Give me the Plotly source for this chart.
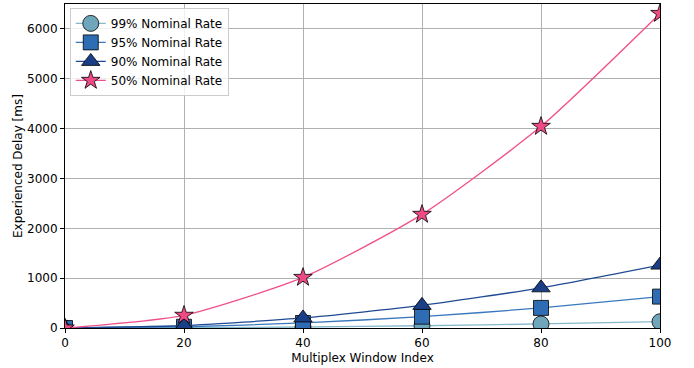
import plotly.graph_objects as go

x_idx = [0, 20, 40, 60, 80, 100]
rate99 = [0, 5, 20, 45, 81, 126]
rate95 = [0, 25, 101, 227, 403, 630]
rate90 = [0, 50, 202, 454, 806, 1262]
rate50 = [0, 255, 1015, 2280, 4045, 6310]

series = [
    ("99% Nominal Rate", rate99, "#6fa6bb", "#86b8cb", "circle", 16),
    ("95% Nominal Rate", rate95, "#2e6db3", "#3a78bd", "square", 15),
    ("90% Nominal Rate", rate90, "#1b3f86", "#1f4a94", "triangle-up", 16),
    ("50% Nominal Rate", rate50, "#ee4a86", "#f0508c", "star", 14),
]

fig = go.Figure()
for name, ys, mc, lc, sym, sz in series:
    fig.add_trace(go.Scatter(
        x=x_idx, y=ys, name=name, mode="lines+markers",
        line=dict(color=lc, width=1.3, shape="spline", smoothing=0.6),
        marker=dict(symbol=sym, size=sz, color=mc, line=dict(color="black", width=0.8)),
    ))

font = dict(family="DejaVu Sans", size=12, color="black")
fig.update_layout(
    width=694, height=368,
    margin=dict(l=65, r=34, t=4, b=40),
    paper_bgcolor="white", plot_bgcolor="white",
    font=font,
    showlegend=True,
    legend=dict(x=0.008, y=0.988, xanchor="left", yanchor="top",
                bgcolor="rgba(255,255,255,0.8)", bordercolor="#cccccc", borderwidth=1,
                font=dict(family="DejaVu Sans", size=12), itemsizing="trace",
                tracegroupgap=0),
)
fig.update_xaxes(
    range=[0, 100], tickvals=[0, 20, 40, 60, 80, 100],
    title=dict(text="Multiplex Window Index", font=font, standoff=4),
    showgrid=True, gridcolor="#b0b0b0", gridwidth=1,
    showline=True, linecolor="black", linewidth=1, mirror=True,
    ticks="outside", ticklen=4, tickcolor="black", zeroline=False,
    automargin=False,
)
fig.update_yaxes(
    range=[0, 6500], tickvals=[0, 1000, 2000, 3000, 4000, 5000, 6000],
    showgrid=True, gridcolor="#b0b0b0", gridwidth=1,
    showline=True, linecolor="black", linewidth=1, mirror=True,
    ticks="outside", ticklen=4, tickcolor="black", zeroline=False,
    automargin=False,
)
fig.add_annotation(
    text="Experienced Delay [ms]", textangle=-90, font=font,
    xref="paper", yref="paper", x=-0.079, y=0.5,
    xanchor="center", yanchor="middle", showarrow=False,
)
fig.write_html(
    "out.html",
    config={"displayModeBar": False},
    post_script="document.body.style.margin='0';document.body.style.padding='0';",
)
